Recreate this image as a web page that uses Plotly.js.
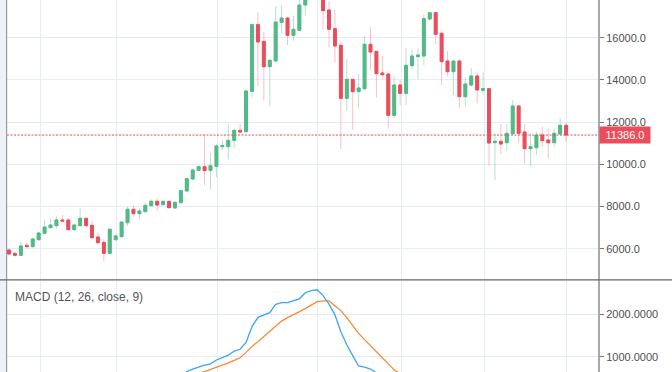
<!DOCTYPE html>
<html><head><meta charset="utf-8">
<script src="https://cdn.plot.ly/plotly-3.0.1.min.js"></script>
<style>html,body{margin:0;padding:0;overflow:hidden;background:#fff}#chart{width:672px;height:372px}</style>
</head><body><div id="chart"></div>
<script>
// OHLC values (one per candle)
const openP = [5937,5779,5684,6158,6095,6427,6727,6996,7090,7359,
 7359,6901,7090,7438,7106,6553,6300,5779,6427,6569,
 7233,7865,7659,7754,8038,8244,8085,8244,7928,8181,
 8734,9302,9713,9887,9713,9903,10835,10835,11135,11609,
 11546,13458,16618,15828,14627,14896,16728,16934,16112,16349,
 17550,18600,19100,18300,17313,16428,15638,13126,14027,13442,
 13584,15686,15354,14327,14279,12320,13758,13363,14674,15101,
 15133,16886,17187,16207,14896,14390,14896,13205,13758,14185,
 13505,13584,11025,11088,11025,11451,12763,11530,10740,10788,
 11388,11151,11025,11436,11846];
const highP = [6016,5826,6316,6253,6506,6806,7359,7438,7549,7596,
 7438,7154,7912,7470,7312,6774,6458,6964,6680,7296,
 7991,8038,7912,8181,8339,8386,8276,8276,8228,8781,
 9366,9792,9982,11420,10519,10961,11183,11894,11704,11941,
 13553,16681,17187,16286,14975,17503,17550,16997,17029,17900,
 19000,19500,19700,18800,17708,17313,15812,14975,14040,14279,
 16081,16491,15370,15133,14295,14185,13995,15496,15417,15496,
 17108,17218,17210,16333,15370,14910,14975,14121,14548,14390,
 14343,13600,11467,11909,11909,13047,12780,11909,11467,11546,
 11783,11704,11704,12178,11973];
const lowP = [5700,5621,5653,6063,6063,6380,6680,6964,6948,7280,
 6885,6869,7043,7043,6458,6206,5416,5747,6364,6538,
 7075,7517,7406,7722,7991,7786,8054,7912,7896,8149,
 8702,9255,9666,9002,8813,9381,10677,10235,10756,11483,
 11514,13173,13711,13015,12763,14864,16207,15654,15859,16318,
 17044,17900,18300,16397,15528,14817,10709,12526,11625,12699,
 13521,14469,13158,14027,11688,12194,12794,12794,14548,14043,
 14706,16839,15686,13758,14153,13284,12652,12731,13679,12889,
 13316,9934,9255,10487,10645,11388,11025,10013,9887,10440,
 10835,10282,10835,11388,11056];
const closeP = [5747,5684,6127,6095,6458,6743,7027,7122,7359,7312,
 6901,7122,7438,7090,6522,6285,5779,6917,6601,7264,
 7865,7659,7786,8054,8244,8070,8244,7944,8196,8749,
 9318,9729,9887,9697,9934,10867,10883,11135,11609,11530,
 13474,16618,15796,14627,14927,16744,16934,16112,16397,17550,
 18600,19100,18900,17281,16397,15607,13126,14027,13442,13616,
 15686,15322,14295,14247,12320,13758,13363,14690,15133,15180,
 16902,17187,16160,14864,14390,14896,13205,13805,14185,13521,
 13584,11009,11088,10961,11467,12763,11467,10740,10835,11388,
 11119,11025,11467,11846,11386];
// MACD (12, 26, close, 9) lines
const macdLine = [180,150,140,150,160,180,210,250,290,320,
 340,340,350,370,360,330,290,230,230,250,
 290,310,330,360,390,410,420,430,440,520,
 650,708,762,800,833,922,979,1036,1130,1175,
 1337,1710,1927,1988,2038,2233,2274,2274,2314,2365,
 2509,2559,2578,2441,2241,1986,1590,1281,1026,781,
 753,708,620,560,500,430,400,380,370,390,
 400,420,460,480,450,400,370,340,300,270,
 240,200,100,20,-40,-80,-120,-160,-190,-210,
 -230,-240,-250,-250,-240];
const signalLine = [150,150,150,150,150,155,165,180,200,225,
 245,265,280,300,310,315,315,305,295,290,
 290,295,300,310,325,340,355,370,420,470,
 520,570,615,649,696,746,797,854,913,974,
 1102,1243,1354,1479,1590,1715,1840,1920,1988,2068,
 2134,2215,2297,2318,2315,2200,2087,1922,1736,1550,
 1403,1269,1132,977,830,687,600,560,530,500,
 480,470,465,465,465,460,450,440,425,405,
 385,365,345,315,280,240,200,165,130,95,
 60,30,5,-20,-40];
const priceTicks = [6000, 8000, 10000, 12000, 14000, 16000];
const macdTicks = [1000, 2000];
const lastPrice = 11386;
const macdTitle = 'MACD (12, 26, close, 9)';

const idx = openP.map((_, i) => i);
const bodyHigh = openP.map((o, i) => Math.max(o, closeP[i]));
const bodyLow = openP.map((o, i) => Math.min(o, closeP[i]));

const UP = '#53b987', DOWN = '#eb4d5c';
const W = 672, H = 372, ML = 7, MR = 73;
const PW = W - ML - MR;
const pxX = p => (p - ML) / PW;
const pxY = p => 1 - p / H;
const XR = [-0.34, 99.56];
const gridX = [5.23, 18.22, 35.1, 52.14, 66.15, 80.16, 94.08];
const GRID = '#e6ecf3';

const traces = [
  {type: 'candlestick', x: idx, open: openP, high: highP, low: lowP, close: closeP,
   xaxis: 'x', yaxis: 'y', whiskerwidth: 0,
   increasing: {line: {color: 'rgba(83,185,135,0.42)', width: 1}, fillcolor: 'rgba(83,185,135,0.42)'},
   decreasing: {line: {color: 'rgba(235,77,92,0.35)', width: 1}, fillcolor: 'rgba(235,77,92,0.35)'},
   hoverinfo: 'skip'},
  {type: 'candlestick', x: idx, open: openP, high: bodyHigh, low: bodyLow, close: closeP,
   xaxis: 'x', yaxis: 'y', whiskerwidth: 0,
   increasing: {line: {color: UP, width: 1}, fillcolor: UP},
   decreasing: {line: {color: DOWN, width: 1}, fillcolor: DOWN},
   hoverinfo: 'skip'},
  {type: 'scatter', mode: 'lines', x: idx, y: signalLine, xaxis: 'x2', yaxis: 'y2',
   line: {color: '#f8893b', width: 1.3}},
  {type: 'scatter', mode: 'lines', x: idx, y: macdLine, xaxis: 'x2', yaxis: 'y2',
   line: {color: '#3ca4f4', width: 1.3}}
];

const axX = {range: XR, rangeslider: {visible: false}, showticklabels: false, ticks: '',
  tickmode: 'array', tickvals: gridX, showgrid: true, gridcolor: GRID, gridwidth: 1,
  zeroline: false, showline: false, fixedrange: true};

const layout = {
  width: W, height: H,
  margin: {l: ML, r: MR, t: 0, b: 0, pad: 0},
  paper_bgcolor: '#ffffff', plot_bgcolor: '#ffffff',
  font: {family: 'Liberation Sans, Arial, sans-serif', size: 11, color: '#555'},
  showlegend: false, hovermode: false, boxgap: 0.3,
  xaxis: Object.assign({}, axX, {anchor: 'y'}),
  xaxis2: Object.assign({}, axX, {anchor: 'y2', matches: 'x'}),
  yaxis: {domain: [pxY(279.3), 1], range: [4548, 17787], side: 'right', anchor: 'x',
    tickmode: 'array', tickvals: priceTicks, tickformat: '.1f', ticks: 'outside', ticklen: 4,
    tickcolor: '#777', showgrid: true, gridcolor: GRID, zeroline: false, showline: false,
    tickfont: {size: 11, color: '#4f4f4f'}},
  yaxis2: {domain: [0, pxY(281)], range: [639, 2785], side: 'right', anchor: 'x2',
    tickmode: 'array', tickvals: macdTicks, tickformat: '.4f', ticks: 'outside', ticklen: 4,
    tickcolor: '#777', showgrid: true, gridcolor: GRID, zeroline: false, showline: false,
    tickfont: {size: 11, color: '#4f4f4f'}},
  shapes: [
    {type: 'rect', xref: 'paper', yref: 'paper', x0: pxX(0), x1: pxX(6.5), y0: 0, y1: 1,
     fillcolor: '#eef2f8', line: {width: 0}, layer: 'below'},
    {type: 'line', xref: 'paper', yref: 'paper', x0: pxX(6.7), x1: pxX(6.7), y0: 0, y1: 1,
     line: {color: '#8a8a8a', width: 1}},
    {type: 'line', xref: 'paper', yref: 'paper', x0: 1, x1: 1, y0: 0, y1: 1,
     line: {color: '#555', width: 1}},
    {type: 'line', xref: 'paper', yref: 'paper', x0: pxX(0), x1: pxX(672), y0: pxY(279.8), y1: pxY(279.8),
     line: {color: '#666', width: 1.3}},
    {type: 'line', xref: 'x', yref: 'y', x0: XR[0], x1: XR[1], y0: lastPrice, y1: lastPrice,
     line: {color: DOWN, width: 1, dash: '2px,1.5px'}}
  ],
  annotations: [
    {xref: 'paper', yref: 'y', x: 1, y: lastPrice, xanchor: 'left', yanchor: 'middle',
     text: lastPrice.toFixed(1), showarrow: false, bgcolor: DOWN, width: 47, height: 13,
     borderpad: 1.5, align: 'center', font: {color: '#ffffff', size: 11}},
    {xref: 'paper', yref: 'y', x: 1, y: 18000, xanchor: 'left', yanchor: 'middle', xshift: 3, yshift: -4,
     text: (18000).toFixed(1), showarrow: false, font: {color: '#4f4f4f', size: 11}},
    {xref: 'paper', yref: 'paper', x: pxX(13), y: pxY(297), xanchor: 'left', yanchor: 'middle',
     text: macdTitle, showarrow: false, font: {color: '#555', size: 12}}
  ]
};

Plotly.newPlot('chart', traces, layout, {staticPlot: true, displayModeBar: false});
</script>
</body></html>
